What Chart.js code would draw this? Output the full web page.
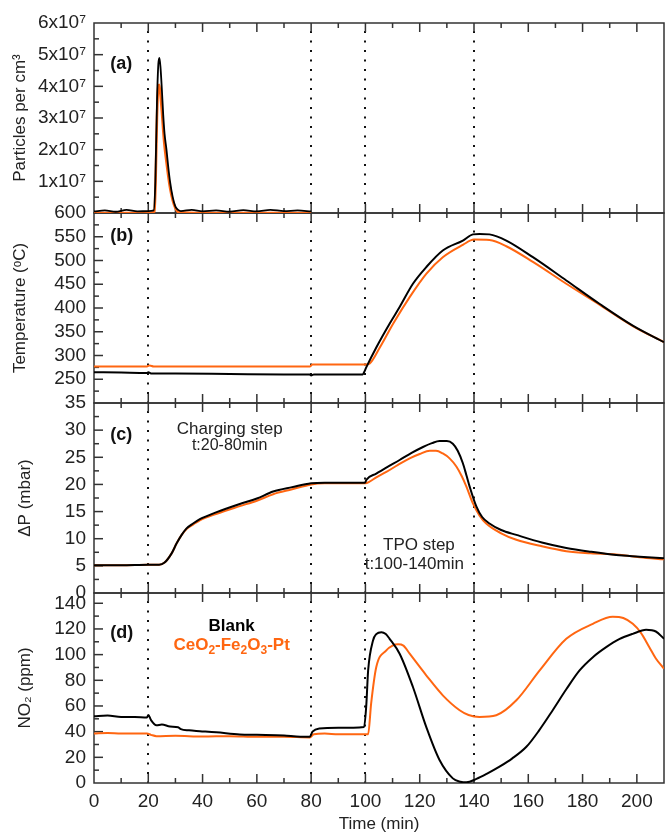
<!DOCTYPE html>
<html>
<head>
<meta charset="utf-8">
<script src="https://cdn.jsdelivr.net/npm/chart.js@4/dist/chart.umd.min.js"></script>
<style>
  body { margin: 0; background: #fff; }
  #wrap { width: 665px; height: 835px; position: relative; }
</style>
</head>
<body>
<div id="wrap"><canvas id="chart"></canvas></div>
<script>
// panel (a) particles per cm3
const timeA = [0, 4, 8, 12, 16, 20, 22, 22.6, 23.2, 23.7, 24.1, 24.5, 25, 25.5, 26, 26.7, 27.3, 28, 29, 30, 31, 32, 36, 40, 45, 50, 55, 60, 65, 70, 75, 80];
const blankA = [5e5, 8e5, 4e5, 1e6, 5e5, 6e5, 8e5, 1.0e7, 3.5e7, 4.7e7, 4.9e7, 4.6e7, 3.9e7, 3.1e7, 2.5e7, 2.0e7, 1.5e7, 1.0e7, 5e6, 2e6, 1e6, 6e5, 1e6, 5e5, 8e5, 4e5, 9e5, 5e5, 1e6, 6e5, 8e5, 5e5];
const timeA2 = [0, 10, 20, 22.3, 22.7, 23.2, 23.7, 24, 24.4, 25, 25.5, 26, 26.7, 27.3, 28, 29, 30, 31, 40, 60, 80];
const ceriaA = [0, 0, 0, 5e5, 1.0e7, 3.0e7, 4.0e7, 4.05e7, 3.8e7, 3.2e7, 2.6e7, 2.1e7, 1.6e7, 1.2e7, 8e6, 4e6, 1.5e6, 3e5, 0, 0, 0];

// panel (b) temperature
const timeB = [0, 10, 19.5, 20, 21, 30, 50, 70, 79.5, 80, 81, 90, 99, 99.6, 100.3, 104, 108.9, 112.6, 117.5, 122.4, 128.5, 135.9, 139.6, 142, 145.7, 151.9, 161.7, 174, 186.2, 198.5, 210];
const blankB = [265, 264, 263, 265, 262, 262, 261, 260, 260, 258, 260, 260, 260, 266, 275, 317, 367, 402, 451, 486, 521, 542, 555, 556, 555, 542, 507, 458, 409, 363, 328];
const timeB2 = [0, 10, 19.5, 20.5, 22, 40, 60, 79.5, 80.5, 90, 100, 101.5, 105.3, 110.2, 116.3, 122.4, 128.5, 135.9, 140, 145.7, 151.9, 161.7, 174, 186.2, 198.5, 210];
const ceriaB = [277, 277, 277, 279, 277, 277, 277, 277, 281, 281, 281, 283, 317, 367, 423, 472, 507, 533, 544, 543, 530, 497, 451, 407, 362, 328];

// panel (c) pressure drop
const timeC = [0, 10, 20, 24, 26, 28.6, 30.4, 32.3, 34.1, 36.5, 39, 45.2, 53.7, 60, 66, 73, 80, 85, 90, 95, 99.8, 100.4, 104, 108, 112.6, 117, 121.2, 124.5, 127.3, 130, 132.2, 134, 135.9, 137.2, 138.4, 140.9, 143, 145.7, 150, 155.6, 165, 174, 183, 192.4, 201, 210];
const blankC = [5.1, 5.1, 5.2, 5.2, 5.6, 7.3, 9.1, 10.7, 11.9, 12.8, 13.6, 14.9, 16.4, 17.4, 18.7, 19.5, 20.2, 20.3, 20.3, 20.3, 20.3, 20.9, 22.0, 23.2, 24.5, 25.8, 26.9, 27.6, 28.0, 28.0, 27.5, 26.2, 23.9, 21.7, 19.6, 15.9, 14.0, 12.8, 11.6, 10.7, 9.3, 8.3, 7.6, 7.0, 6.7, 6.4];
const timeC2 = [0, 10, 20, 24, 26, 28.6, 30.4, 32.3, 34.1, 36.5, 39, 45.2, 53.7, 60, 66, 73, 80, 85, 90, 95, 100, 101.5, 104, 107.7, 112, 116.3, 120, 123.7, 126, 128.5, 131, 133.5, 135.5, 137.2, 139.6, 142, 144.5, 150, 155.6, 165, 174, 183, 192.4, 201, 210];
const ceriaC = [5.1, 5.1, 5.2, 5.2, 5.6, 7.3, 9.1, 10.7, 11.8, 12.6, 13.4, 14.6, 16.0, 17.0, 18.2, 19.1, 20.0, 20.2, 20.2, 20.2, 20.2, 20.5, 21.3, 22.3, 23.6, 24.8, 25.6, 26.2, 26.2, 25.7, 24.8, 23.3, 21.5, 19.6, 16.5, 14.3, 12.8, 11.0, 9.8, 8.6, 7.7, 7.3, 7.1, 6.6, 6.2];

// panel (d) NO2
const timeD = [0, 5, 10, 15, 19.5, 20, 21, 23, 25, 28, 31, 32, 35, 39, 45, 53.7, 60, 70, 76, 79.5, 80.5, 83, 90, 99.5, 100.3, 101, 102.8, 104, 105.9, 107.5, 108.9, 112.6, 117.5, 122.4, 127.3, 132.2, 135, 137.2, 140.9, 145, 149.4, 154, 159.3, 164, 169, 174, 178.9, 183.8, 188.7, 193.5, 198.5, 203.4, 207, 210];
const blankD = [52, 52.5, 51.5, 51.5, 51, 53, 49, 45, 45.5, 44, 43.5, 42, 41, 40.4, 39.5, 37.8, 37.5, 37, 36, 36, 40, 42.5, 43, 43.7, 60, 87.7, 111, 116, 117.5, 116, 112.3, 100.7, 74.8, 43.7, 17.9, 3.6, 1, 0.5, 3.2, 7.5, 12.7, 19, 28.2, 41, 56.7, 73, 87.7, 98, 105.8, 112, 116.2, 119.3, 118, 112.3];
const timeD2 = [0, 5, 10, 15, 19.5, 21, 23, 30, 40, 50, 60, 70, 79.5, 81, 85, 90, 95, 101, 102.1, 104, 107.7, 110, 112, 114, 116.3, 122.4, 128.5, 134.7, 138, 142, 148.2, 155.6, 164.2, 174, 183.8, 191.1, 195, 198.5, 201.5, 204.6, 207, 210];
const ceriaD = [38.5, 39, 38.5, 38.5, 38.5, 37.5, 36.5, 36.8, 36.2, 36.5, 36, 36, 35.5, 38, 38.5, 38, 38, 38, 61.9, 90.3, 103.3, 107, 108, 107, 100.7, 83.9, 68.3, 56.7, 53, 51.5, 52.8, 64.4, 87.7, 112.3, 124, 129.5, 128.5, 124, 117, 105.8, 97, 89];

const stepTimes = [20, 80, 100, 140];
const timeTicks = [0, 20, 40, 60, 80, 100, 120, 140, 160, 180, 200];

const BLACK = "#000000";
const ORANGE = "#ff6611";
const FONT = "Arial, 'Liberation Sans', sans-serif";
const TICK_SIZE = 19;

function pts(xs, ys) {
  return xs.map((x, i) => ({ x: x, y: ys[i] }));
}

function line(xs, ys, color, axis, width) {
  return {
    data: pts(xs, ys),
    borderColor: color,
    borderWidth: width,
    pointRadius: 0,
    cubicInterpolationMode: "monotone",
    yAxisID: axis,
  };
}

function yAxis(min, max, step, title, hide, titlePad) {
  return {
    type: "linear",
    position: "left",
    stack: "panels",
    stackWeight: 1,
    min: min,
    max: max,
    grid: { display: false, drawTicks: false },
    border: { display: false },
    ticks: {
      stepSize: step,
      autoSkip: false,
      includeBounds: false,
      padding: 8,
      color: "#222",
      font: { family: FONT, size: TICK_SIZE },
      callback: hide,
    },
    title: {
      display: true,
      text: title,
      color: "#222",
      font: { family: FONT, size: 17 },
      padding: { top: titlePad, bottom: 0 },
    },
    afterFit: (s) => { s.width = 88; },
  };
}

// frame, inward ticks and dotted step markers
const framePlugin = {
  id: "frame",
  beforeDatasetsDraw(chart) {
    const ctx = chart.ctx;
    const area = chart.chartArea;
    const xs = chart.scales.x;
    ctx.save();
    ctx.strokeStyle = "#111";
    ctx.lineWidth = 2;
    ctx.setLineDash([2, 7.5]);
    stepTimes.forEach((t) => {
      const px = Math.round(xs.getPixelForValue(t));
      ctx.beginPath();
      ctx.moveTo(px, area.top + 8);
      ctx.lineTo(px, area.bottom);
      ctx.stroke();
    });
    ctx.setLineDash([]);

    ctx.strokeStyle = "#333";
    ctx.lineWidth = 1.5;
    ["yA", "yB", "yC", "yD"].forEach((id) => {
      const s = chart.scales[id];
      ctx.strokeRect(area.left, s.top, area.right - area.left, s.bottom - s.top);
      // time ticks on top and bottom edge
      for (let t = 10; t < 210; t += 10) {
        const px = xs.getPixelForValue(t);
        const len = t % 20 === 0 ? 9 : 5;
        ctx.beginPath();
        ctx.moveTo(px, s.top);
        ctx.lineTo(px, s.top + len);
        ctx.moveTo(px, s.bottom);
        ctx.lineTo(px, s.bottom - len);
        ctx.stroke();
      }
      // value ticks on the left edge
      const step = s.options.ticks.stepSize / 2;
      for (let v = s.min + step, k = 1; v < s.max; v += step, k++) {
        const py = s.getPixelForValue(v);
        const len = k % 2 === 0 ? 9 : 5;
        ctx.beginPath();
        ctx.moveTo(area.left, py);
        ctx.lineTo(area.left + len, py);
        ctx.stroke();
      }
    });
    ctx.restore();
  },
  afterDraw(chart) {
    const ctx = chart.ctx;
    const xs = chart.scales.x;
    const put = (text, t, axis, v, font, color, align) => {
      ctx.font = font;
      ctx.fillStyle = color;
      ctx.textAlign = align;
      ctx.textBaseline = "middle";
      ctx.fillText(text, xs.getPixelForValue(t), chart.scales[axis].getPixelForValue(v));
    };
    ctx.save();
    const bold = "bold 18px " + FONT;
    put("(a)", 6, "yA", 4.7e7, bold, "#111", "left");
    put("(b)", 6, "yB", 551, bold, "#111", "left");
    put("(c)", 6, "yC", 29.1, bold, "#111", "left");
    put("(d)", 6, "yD", 117, bold, "#111", "left");

    put("Charging step", 50, "yC", 30.2, "17px " + FONT, "#222", "center");
    put("t:20-80min", 50, "yC", 27.1, "16px " + FONT, "#222", "center");
    put("TPO step", 119.7, "yC", 8.7, "17px " + FONT, "#222", "center");
    put("t:100-140min", 118, "yC", 5.2, "17px " + FONT, "#222", "center");

    put("Blank", 50.7, "yD", 122, "bold 17px " + FONT, "#000", "center");

    // orange legend with subscripts
    const parts = [["CeO", 0], ["2", 1], ["-Fe", 0], ["2", 1], ["O", 0], ["3", 1], ["-Pt", 0]];
    const big = "bold 17px " + FONT;
    const small = "bold 12px " + FONT;
    let w = 0;
    parts.forEach((p) => {
      ctx.font = p[1] ? small : big;
      w += ctx.measureText(p[0]).width;
    });
    let x = xs.getPixelForValue(50.7) - w / 2;
    const y = chart.scales.yD.getPixelForValue(107);
    ctx.fillStyle = ORANGE;
    ctx.textAlign = "left";
    ctx.textBaseline = "middle";
    parts.forEach((p) => {
      ctx.font = p[1] ? small : big;
      ctx.fillText(p[0], x, p[1] ? y + 5 : y);
      x += ctx.measureText(p[0]).width;
    });
    ctx.restore();
  },
};

const canvas = document.getElementById("chart");
canvas.width = 665;
canvas.height = 835;

new Chart(canvas.getContext("2d"), {
  type: "line",
  data: {
    datasets: [
      line(timeA, blankA, BLACK, "yA", 1.8),
      line(timeA2, ceriaA, ORANGE, "yA", 2.5),
      line(timeB, blankB, BLACK, "yB", 2),
      line(timeB2, ceriaB, ORANGE, "yB", 2),
      line(timeC, blankC, BLACK, "yC", 2),
      line(timeC2, ceriaC, ORANGE, "yC", 2),
      line(timeD, blankD, BLACK, "yD", 2),
      line(timeD2, ceriaD, ORANGE, "yD", 2),
    ],
  },
  options: {
    responsive: false,
    animation: false,
    layout: { padding: { left: 6, right: 1, top: 23, bottom: 0 } },
    plugins: { legend: { display: false }, tooltip: { enabled: false } },
    scales: {
      x: {
        type: "linear",
        min: 0,
        max: 210,
        grid: { display: false, drawTicks: false },
        border: { display: false },
        afterBuildTicks: (s) => { s.ticks = timeTicks.map((v) => ({ value: v })); },
        ticks: { padding: 7, color: "#222", font: { family: FONT, size: TICK_SIZE } },
        title: {
          display: true,
          text: "Time (min)",
          color: "#222",
          font: { family: FONT, size: 17 },
          padding: { top: 0, bottom: 0 },
        },
        afterFit: (s) => { s.height = 52; },
      },
      yD: yAxis(0, 148, 20, "NO₂ (ppm)", (v) => v, 9),
      yC: yAxis(0, 35, 5, "ΔP (mbar)", (v) => v, 9),
      yB: yAxis(200, 600, 50, "Temperature (ᵒC)", (v) => (v === 200 ? "" : v), 4),
      yA: yAxis(0, 6e7, 1e7, "Particles per cm³", (v) => (v === 0 ? "" : v / 1e7 + "x10⁷"), 4),
    },
  },
  plugins: [framePlugin],
});
</script>
</body>
</html>
